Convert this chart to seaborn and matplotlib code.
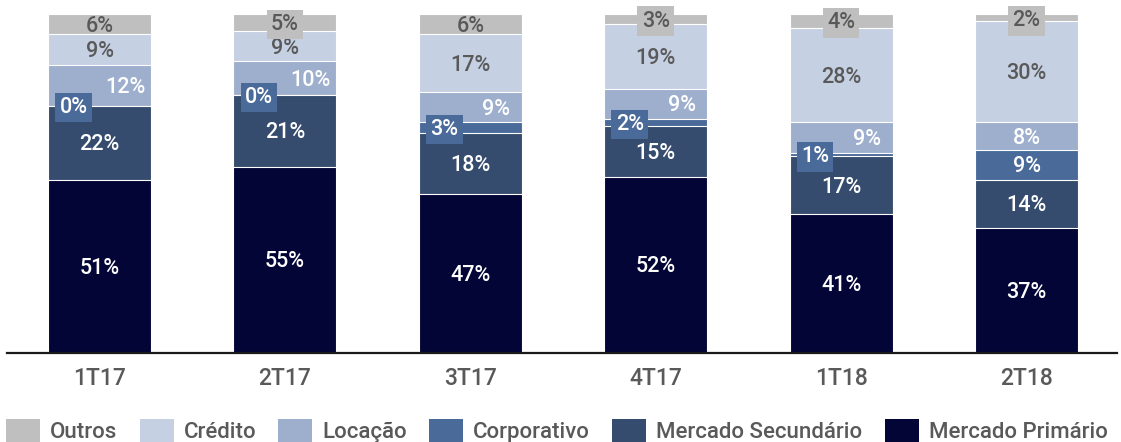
import matplotlib
matplotlib.use("Agg")
import matplotlib.pyplot as plt
from matplotlib.patches import Patch
import seaborn as sns
import numpy as np
import pandas as pd

# ---- data ----
categories = ['1T17', '2T17', '3T17', '4T17', '1T18', '2T18']
mercado_primario = [51, 55, 47, 52, 41, 37]
mercado_secundario = [22, 21, 18, 15, 17, 14]
corporativo = [0, 0, 3, 2, 1, 9]
locacao = [12, 10, 9, 9, 9, 8]
credito = [9, 9, 17, 19, 28, 30]
outros = [6, 5, 6, 3, 4, 2]

series_names = ['Mercado Primário', 'Mercado Secundário', 'Corporativo',
                'Locação', 'Crédito', 'Outros']
series_vals = [mercado_primario, mercado_secundario, corporativo,
               locacao, credito, outros]
colors = ['#020535', '#364c6e', '#4a6a9a', '#9dafcd', '#c5d0e3', '#bfbfbf']
text_colors = ['white', 'white', 'white', 'white', '#595959', '#595959']

sns.set_theme(style='white')
plt.rcParams['font.family'] = ['Roboto', 'DejaVu Sans']

W, H = 1121, 442
fig = plt.figure(figsize=(W / 100, H / 100), dpi=100)
ax = fig.add_axes([7 / W, 1 - 353 / H, 1110 / W, (353 - 14) / H])

df = pd.DataFrame({n: v for n, v in zip(series_names, series_vals)})
df['cat'] = categories
cum = df[series_names].cumsum(axis=1)

bar_w = 0.556
# draw overlaid cumulative bars, tallest first
for i in range(len(series_names) - 1, -1, -1):
    name = series_names[i]
    sns.barplot(x=df['cat'], y=cum[name], color=colors[i], width=bar_w,
                saturation=1, edgecolor='white', linewidth=0.8, ax=ax,
                order=categories)

fs = 15.5
weight = 'medium'
for j in range(len(categories)):
    bottoms = 0
    for i, name in enumerate(series_names):
        v = series_vals[i][j]
        y = bottoms + v / 2 - 0.6
        x = j
        bbox = None
        if name == 'Corporativo' and v < 5:
            x = j - 0.14
            bbox = dict(boxstyle='square,pad=0.2', fc=colors[i], ec='none')
        elif name == 'Locação' and corporativo[j] < 5:
            x = j + 0.14
        elif name == 'Outros':
            y = min(100 - v / 2 - 0.6, 98)
            if v <= 5:
                bbox = dict(boxstyle='square,pad=0.2', fc=colors[i], ec='none')
        ax.text(x, y, f'{v}%', ha='center', va='center', fontsize=fs,
                color=text_colors[i], fontweight=weight, bbox=bbox, zorder=5)
        bottoms += v

ax.set_xlim(-0.499, 5.488)
ax.set_ylim(0, 100)
ax.set_xlabel('')
ax.set_ylabel('')
ax.set_yticks([])
for s in ['left', 'top', 'right']:
    ax.spines[s].set_visible(False)
ax.spines['bottom'].set_color('#1a1a1a')
ax.spines['bottom'].set_linewidth(1.6)
ax.tick_params(axis='x', length=0, pad=10, labelsize=16.5, labelcolor='#595959')
for lab in ax.get_xticklabels():
    lab.set_fontweight(weight)

handles = [Patch(facecolor=colors[i], edgecolor='none') for i in range(5, -1, -1)]
labels = [series_names[i] for i in range(5, -1, -1)]
leg = fig.legend(handles, labels, loc='center left',
                 bbox_to_anchor=(6 / W, 1 - 431 / H), ncol=6, frameon=False,
                 fontsize=16, handlelength=1.53, handleheight=1.35,
                 handletextpad=0.45, columnspacing=1.0, borderpad=0,
                 borderaxespad=0)
for t in leg.get_texts():
    t.set_color('#595959')
    t.set_fontweight(weight)

fig.savefig('out.png', dpi=100)
